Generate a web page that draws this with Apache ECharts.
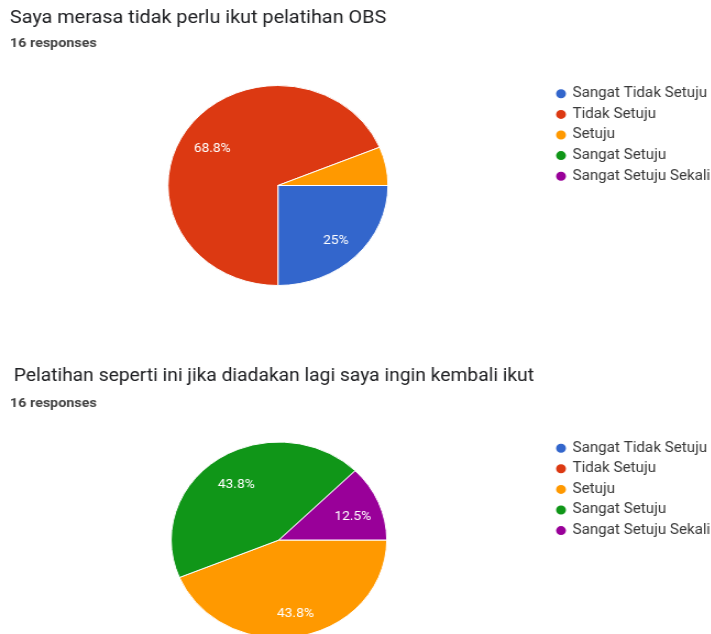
<!DOCTYPE html>
<html>
<head>
<meta charset="utf-8">
<script src="https://cdn.jsdelivr.net/npm/echarts@6/dist/echarts.min.js"></script>
<style>
html,body{margin:0;padding:0;background:#fff;overflow:hidden;}
#c{width:646.4px;height:634px;transform:scale(1.1,1);transform-origin:0 0;}
</style>
</head>
<body>
<div id="c"></div>
<script>
// Data
const categories = ['Sangat Tidak Setuju', 'Tidak Setuju', 'Setuju', 'Sangat Setuju', 'Sangat Setuju Sekali'];
const colors = ['#3366cc', '#dc3912', '#ff9900', '#109618', '#990099'];
const q1Title = 'Saya merasa tidak perlu ikut pelatihan OBS';
const q1Values = [4, 11, 1, 0, 0];
const q2Title = 'Pelatihan seperti ini jika diadakan lagi saya ingin kembali ikut';
const q2Values = [0, 0, 7, 7, 2];
const subtitle = '16 responses';

const FONT = 'Roboto, "Noto Sans", sans-serif';

function mk(values) {
  return categories.map((n, i) => ({ name: n, value: values[i], itemStyle: { color: colors[i] } }));
}
function pct(values) {
  const tot = values.reduce((a, b) => a + b, 0);
  return p => {
    const share = p.value / tot;
    if (!p.value || share < 0.1) return '';
    return (Math.round(share * 1000) / 10) + '%';
  };
}
function pieSeries(values, center, radius) {
  return [
    {
      type: 'pie', center: center, radius: radius, startAngle: 0, clockwise: true,
      avoidLabelOverlap: false, animation: false, silent: true,
      data: mk(values),
      itemStyle: { borderColor: '#ffffff', borderWidth: 1 },
      label: { show: false }, labelLine: { show: false }
    },
    {
      type: 'pie', center: center, radius: [radius * 0.4, radius], startAngle: 0, clockwise: true,
      avoidLabelOverlap: false, animation: false, silent: true, legendHoverLink: false,
      data: mk(values).map(d => ({ name: d.name, value: d.value, itemStyle: { color: 'rgba(0,0,0,0)' } })),
      itemStyle: { borderWidth: 0 },
      label: { show: true, position: 'inside', formatter: pct(values), color: '#ffffff', fontSize: 12.5, fontFamily: FONT, offset: [1, 4] },
      labelLine: { show: false }
    }
  ];
}

const chart = echarts.init(document.getElementById('c'), null, { renderer: 'canvas' });
const legendBase = {
  orient: 'vertical', icon: 'circle', itemWidth: 11, itemHeight: 11, itemGap: 6.6, padding: 0,
  selectedMode: false, left: 503.5,
  textStyle: { fontSize: 13.8, fontFamily: FONT, color: '#3a3a3a' }
};
const titleStyle = { fontSize: 18, lineHeight: 18, fontWeight: 'normal', color: '#202124', fontFamily: FONT };
const title2Style = Object.assign({}, titleStyle, { fontSize: 17.5, lineHeight: 17.5 });
const subStyle = { fontSize: 13, lineHeight: 13, fontWeight: 'bold', color: '#444444', fontFamily: FONT };
chart.setOption({
  backgroundColor: '#ffffff',
  color: colors,
  title: [
    { text: q1Title, left: 9.1, top: 9.5, padding: 0, textStyle: titleStyle },
    { text: subtitle, left: 9.1, top: 37.5, padding: 0, textStyle: subStyle },
    { text: q2Title, left: 12.5, top: 367.5, padding: 0, textStyle: title2Style },
    { text: subtitle, left: 9.1, top: 397, padding: 0, textStyle: subStyle }
  ],
  legend: [
    Object.assign({}, legendBase, { top: 86.8, data: categories }),
    Object.assign({}, legendBase, { top: 441.2, data: categories })
  ],
  series: [].concat(
    pieSeries(q1Values, [252.7, 185.5], 100),
    pieSeries(q2Values, [253.6, 540], 98)
  )
});
</script>
</body>
</html>
